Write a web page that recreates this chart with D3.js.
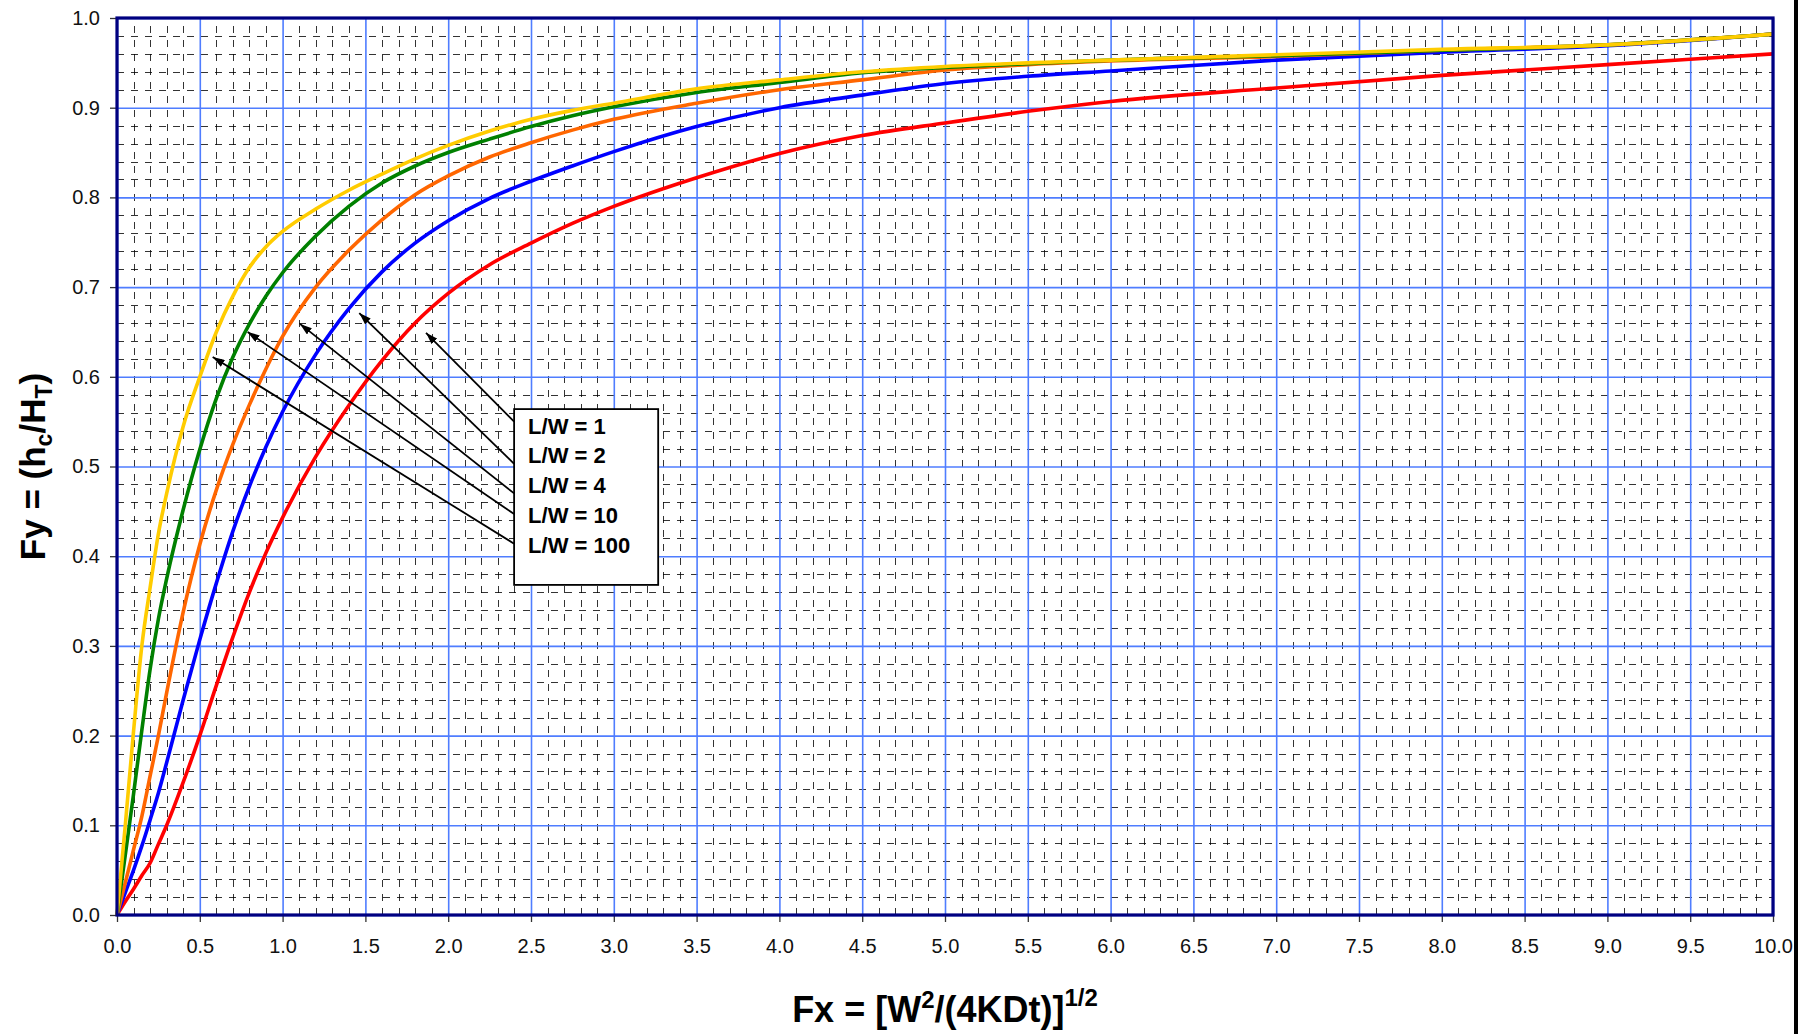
<!DOCTYPE html>
<html>
<head>
<meta charset="utf-8">
<script src="https://cdn.jsdelivr.net/npm/d3@7"></script>
<style>
  body { margin: 0; background: #fff; }
  svg { display: block; font-family: "Liberation Sans", Arial, sans-serif; }
</style>
</head>
<body>
<div id="chart"></div>
<script>
// values
var fx = [0, 0.05, 0.1, 0.15, 0.2, 0.25, 0.3, 0.4, 0.5, 0.6, 0.7, 0.8, 0.9, 1.0, 1.2, 1.4, 1.6, 1.8, 2.0, 2.25, 2.5, 2.75, 3.0, 3.5, 4.0, 4.5, 5.0, 5.5, 6.0, 7.0, 8.0, 9.0, 10.0];
var fyLW1   = [0, 0.015, 0.029, 0.044, 0.058, 0.079, 0.100, 0.148, 0.200, 0.256, 0.310, 0.360, 0.404, 0.443, 0.511, 0.568, 0.618, 0.660, 0.693, 0.725, 0.749, 0.771, 0.790, 0.822, 0.849, 0.869, 0.883, 0.896, 0.907, 0.922, 0.936, 0.948, 0.960];
var fyLW2   = [0, 0.025, 0.050, 0.077, 0.106, 0.136, 0.170, 0.240, 0.307, 0.370, 0.428, 0.478, 0.522, 0.561, 0.625, 0.676, 0.717, 0.749, 0.774, 0.799, 0.818, 0.835, 0.851, 0.879, 0.900, 0.914, 0.927, 0.935, 0.941, 0.953, 0.962, 0.969, 0.982];
var fyLW4   = [0, 0.036, 0.073, 0.110, 0.155, 0.200, 0.248, 0.338, 0.413, 0.474, 0.525, 0.569, 0.609, 0.645, 0.700, 0.741, 0.775, 0.803, 0.824, 0.845, 0.861, 0.875, 0.887, 0.905, 0.920, 0.931, 0.942, 0.948, 0.952, 0.957, 0.964, 0.970, 0.982];
var fyLW10  = [0, 0.067, 0.135, 0.206, 0.274, 0.330, 0.375, 0.452, 0.519, 0.576, 0.622, 0.659, 0.690, 0.716, 0.757, 0.790, 0.816, 0.835, 0.850, 0.865, 0.879, 0.891, 0.901, 0.917, 0.928, 0.939, 0.945, 0.949, 0.953, 0.958, 0.964, 0.970, 0.982];
var fyLW100 = [0, 0.100, 0.205, 0.300, 0.365, 0.425, 0.470, 0.545, 0.600, 0.650, 0.690, 0.722, 0.745, 0.762, 0.787, 0.808, 0.826, 0.843, 0.858, 0.874, 0.887, 0.897, 0.905, 0.921, 0.931, 0.940, 0.946, 0.950, 0.953, 0.959, 0.965, 0.970, 0.982];

var seriesNames  = ["L/W = 1", "L/W = 2", "L/W = 4", "L/W = 10", "L/W = 100"];
var seriesValues = [fyLW1, fyLW2, fyLW4, fyLW10, fyLW100];
var seriesColors = ["#ff0000", "#0000ff", "#ff6600", "#008000", "#ffcc00"];

// arrows from the label box to each curve (data units)
var arrowTipX  = [1.866, 1.463, 1.105, 0.789, 0.578];
var arrowTipY  = [0.649, 0.671, 0.659, 0.650, 0.622];
var arrowBaseY = [0.550, 0.503, 0.470, 0.447, 0.414];
var boxX = [2.398, 3.268];
var boxY = [0.564, 0.368];

var xMajor = d3.range(0, 10.001, 0.5);
var yMajor = d3.range(0, 1.0001, 0.1);
var xMinor = d3.range(1, 100).filter(function (i) { return i % 5 !== 0; }).map(function (i) { return i / 10; });
var yMinor = d3.range(1, 50).filter(function (i) { return i % 5 !== 0; }).map(function (i) { return i / 50; });

var W = 1815, H = 1034;
var margin = {top: 18, right: 42, bottom: 119, left: 117};
var width = W - margin.left - margin.right,
    height = H - margin.top - margin.bottom;

var svg = d3.select("#chart").append("svg")
    .attr("width", W)
    .attr("height", H);

var g = svg.append("g")
    .attr("transform", "translate(" + margin.left + "," + margin.top + ")");

var x = d3.scaleLinear().domain([0, 10]).range([0, width]);
var y = d3.scaleLinear().domain([0, 1]).range([height, 0]);

// minor dashed grid
g.append("g")
    .attr("class", "grid-minor")
    .attr("transform", "translate(0," + height + ")")
    .call(d3.axisBottom(x).tickValues(xMinor).tickSize(-height).tickFormat(""));
g.append("g")
    .attr("class", "grid-minor")
    .call(d3.axisLeft(y).tickValues(yMinor).tickSize(-width).tickFormat(""));
g.selectAll(".grid-minor .domain").remove();
g.selectAll(".grid-minor line")
    .attr("stroke", "#000")
    .attr("stroke-opacity", 0.8)
    .attr("stroke-width", 1)
    .attr("stroke-dasharray", "7,7")
    .attr("shape-rendering", "crispEdges");

// major blue grid
g.append("g")
    .attr("class", "grid-major")
    .attr("transform", "translate(0," + height + ")")
    .call(d3.axisBottom(x).tickValues(xMajor).tickSize(-height).tickFormat(""));
g.append("g")
    .attr("class", "grid-major")
    .call(d3.axisLeft(y).tickValues(yMajor).tickSize(-width).tickFormat(""));
g.selectAll(".grid-major .domain").remove();
g.selectAll(".grid-major line")
    .attr("stroke", "#4f7dff")
    .attr("stroke-width", 1.6);

// axes with labels
var xAxis = g.append("g")
    .attr("transform", "translate(0," + height + ")")
    .call(d3.axisBottom(x).tickValues(xMajor).tickSize(7).tickPadding(17).tickFormat(d3.format(".1f")));
var yAxis = g.append("g")
    .call(d3.axisLeft(y).tickValues(yMajor).tickSize(7).tickPadding(10).tickFormat(d3.format(".1f")));
[xAxis, yAxis].forEach(function (a) {
    a.select(".domain").remove();
    a.selectAll("line").attr("stroke", "#333").attr("stroke-width", 1.3);
    a.selectAll("text")
        .style("font-size", "20px")
        .style("font-family", "'Liberation Sans', Arial, sans-serif")
        .attr("fill", "#111");
});

// curves
var line = d3.line()
    .x(function (d) { return x(d[0]); })
    .y(function (d) { return y(d[1]); })
    .curve(d3.curveMonotoneX);

seriesValues.forEach(function (vals, i) {
    var pts = fx.map(function (v, j) { return [v, vals[j]]; });
    g.append("path")
        .datum(pts)
        .attr("fill", "none")
        .attr("stroke", seriesColors[i])
        .attr("stroke-width", 3.6)
        .attr("stroke-linejoin", "round")
        .attr("d", line);
});

// plot frame
g.append("rect")
    .attr("x", 0).attr("y", 0)
    .attr("width", width).attr("height", height)
    .attr("fill", "none")
    .attr("stroke", "#000080")
    .attr("stroke-width", 3.2);

// arrows + label box
svg.append("defs").append("marker")
    .attr("id", "head")
    .attr("markerUnits", "userSpaceOnUse")
    .attr("viewBox", "0 0 12 8")
    .attr("refX", 12).attr("refY", 4)
    .attr("markerWidth", 12).attr("markerHeight", 8)
    .attr("orient", "auto")
    .append("path")
    .attr("d", "M0,0 L12,4 L0,8 Z")
    .attr("fill", "#000");

seriesNames.forEach(function (name, i) {
    g.append("line")
        .attr("x1", x(boxX[0])).attr("y1", y(arrowBaseY[i]))
        .attr("x2", x(arrowTipX[i])).attr("y2", y(arrowTipY[i]))
        .attr("stroke", "#000")
        .attr("stroke-width", 1.8)
        .attr("marker-end", "url(#head)");
});

g.append("rect")
    .attr("x", x(boxX[0])).attr("y", y(boxY[0]))
    .attr("width", x(boxX[1]) - x(boxX[0]))
    .attr("height", y(boxY[1]) - y(boxY[0]))
    .attr("fill", "#fff")
    .attr("stroke", "#000")
    .attr("stroke-width", 1.8);

g.selectAll(".lw-label")
    .data(seriesNames)
    .enter().append("text")
    .attr("class", "lw-label")
    .attr("x", x(boxX[0]) + 14)
    .attr("y", function (d, i) { return y(boxY[0]) + 24.5 + i * 29.8; })
    .style("font-size", "22px")
    .style("font-weight", "bold")
    .attr("fill", "#000")
    .text(function (d) { return d; });

// axis titles
var xt = svg.append("text")
    .attr("x", margin.left + width / 2)
    .attr("y", 1022)
    .attr("text-anchor", "middle")
    .style("font-size", "36px")
    .style("font-weight", "bold");
xt.append("tspan").text("Fx = [W");
xt.append("tspan").attr("dy", -14).style("font-size", "24px").text("2");
xt.append("tspan").attr("dy", 14).text("/(4KDt)]");
xt.append("tspan").attr("dy", -16).style("font-size", "24px").text("1/2");

var yt = svg.append("text")
    .attr("transform", "translate(45," + (margin.top + height / 2) + ") rotate(-90)")
    .attr("text-anchor", "middle")
    .style("font-size", "35px")
    .style("font-weight", "bold");
yt.append("tspan").text("Fy = (h");
yt.append("tspan").attr("dy", 7).style("font-size", "23px").text("c");
yt.append("tspan").attr("dy", -7).text("/H");
yt.append("tspan").attr("dy", 7).style("font-size", "23px").text("T");
yt.append("tspan").attr("dy", -7).text(")");

// right edge border of the chart area
svg.append("line")
    .attr("x1", 1796).attr("x2", 1796)
    .attr("y1", 0).attr("y2", H)
    .attr("stroke", "#000")
    .attr("stroke-width", 4);
</script>
</body>
</html>
